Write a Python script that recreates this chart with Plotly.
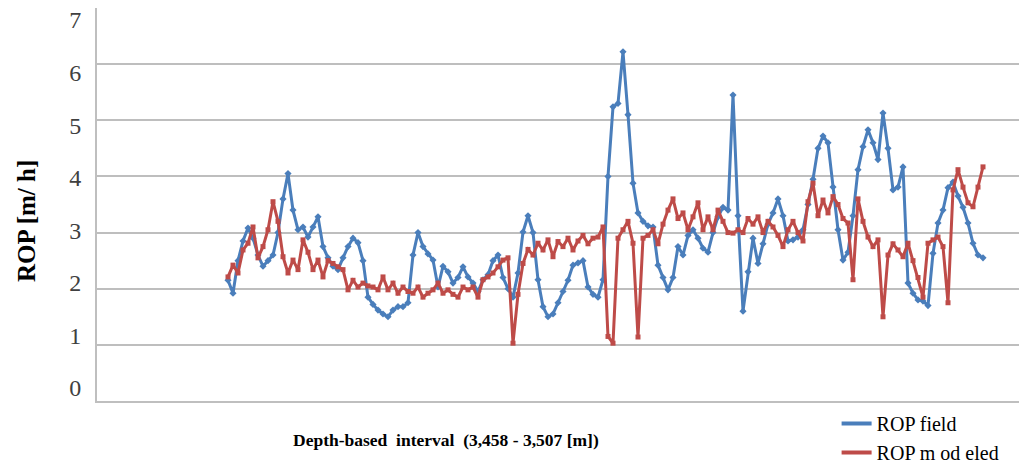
import plotly.graph_objects as go

# Sample index along the drilled interval (3,458 - 3,507 m)
sample = list(range(152))

rop_field = [
    2.15, 1.92, 2.50, 2.85, 3.08, 2.90, 2.60, 2.40, 2.50, 2.60,
    3.00, 3.60, 4.05, 3.40, 3.05, 3.10, 2.92, 3.10, 3.28, 2.75,
    2.55, 2.40, 2.34, 2.55, 2.75, 2.90, 2.82, 2.50, 1.85, 1.72,
    1.62, 1.55, 1.50, 1.62, 1.68, 1.68, 1.75, 2.60, 3.00, 2.75,
    2.62, 2.51, 2.03, 2.40, 2.30, 2.10, 2.20, 2.39, 2.21, 2.10,
    1.95, 2.16, 2.25, 2.50, 2.60, 2.20, 2.00, 1.85, 2.28, 3.01,
    3.30, 3.00, 2.16, 1.68, 1.50, 1.55, 1.75, 1.95, 2.15, 2.42,
    2.46, 2.50, 2.03, 1.90, 1.85, 2.16, 4.00, 5.24, 5.30, 6.22,
    5.10, 3.88, 3.35, 3.20, 3.12, 3.10, 2.42, 2.20, 1.98, 2.20,
    2.75, 2.60, 2.95, 3.05, 2.90, 2.72, 2.65, 3.00, 3.28, 3.45,
    3.40, 5.45, 3.30, 1.60, 2.30, 2.90, 2.45, 2.80, 3.15, 3.35,
    3.60, 3.30, 2.85, 2.87, 2.92, 3.05, 3.50, 3.95, 4.50, 4.72,
    4.60, 3.81, 3.05, 2.51, 2.65, 3.30, 4.12, 4.53, 4.83, 4.60,
    4.30, 5.13, 4.50, 3.76, 3.81, 4.17, 2.10, 1.92, 1.80, 1.78,
    1.70, 2.63, 3.17, 3.40, 3.80, 3.90, 3.65, 3.45, 3.17, 2.81,
    2.60, 2.55,
]

rop_modeled = [
    2.21, 2.42, 2.28, 2.69, 2.81, 3.10, 2.55, 2.75, 3.05, 3.55,
    3.20, 2.57, 2.28, 2.51, 2.34, 2.87, 2.65, 2.34, 2.51, 2.21,
    2.50, 2.45, 2.39, 2.34, 1.98, 2.15, 2.03, 2.10, 2.05, 2.03,
    1.98, 2.21, 1.98, 2.10, 1.92, 2.03, 1.95, 1.92, 2.03, 1.85,
    1.92, 1.98, 2.10, 1.92, 1.98, 1.90, 1.85, 2.03, 1.98, 2.03,
    1.85, 2.16, 2.21, 2.28, 2.39, 2.51, 2.55, 1.03, 1.90, 2.45,
    2.70, 2.60, 2.81, 2.69, 2.87, 2.57, 2.84, 2.75, 2.90, 2.69,
    2.85, 2.95, 2.80, 2.90, 2.92, 3.10, 1.15, 1.03, 2.90, 3.05,
    3.20, 2.81, 1.14, 2.90, 2.95, 3.05, 2.80, 3.15, 3.40, 3.60,
    3.25, 3.35, 3.05, 3.28, 3.53, 3.05, 3.28, 3.05, 3.40, 3.20,
    3.00, 2.99, 3.05, 3.00, 3.25, 3.15, 3.28, 3.00, 3.20, 3.10,
    2.95, 2.75, 3.05, 3.20, 3.00, 2.85, 3.55, 3.88, 3.30, 3.58,
    3.35, 3.64, 3.50, 3.25, 3.17, 2.16, 3.60, 3.20, 2.92, 2.75,
    2.87, 1.50, 2.60, 2.80, 2.69, 2.57, 2.81, 2.50, 2.20, 1.85,
    2.81, 2.87, 2.92, 2.75, 1.75, 3.76, 4.12, 3.81, 3.53, 3.46,
    3.81, 4.17,
]

y_ticks = [0, 1, 2, 3, 4, 5, 6, 7]

BLUE = "#4A7EBB"
RED = "#BE4B48"
GRID = "#BEBEBE"
SERIF = "Liberation Serif, Times New Roman, serif"

fig = go.Figure()

fig.add_trace(go.Scatter(
    x=sample, y=rop_field, mode="lines+markers", showlegend=False,
    line=dict(color=BLUE, width=3),
    marker=dict(symbol="diamond", size=5.5, color=BLUE),
))
fig.add_trace(go.Scatter(
    x=sample, y=rop_modeled, mode="lines+markers", showlegend=False,
    line=dict(color=RED, width=3),
    marker=dict(symbol="square", size=5, color=RED),
))

# legend entries drawn as plain lines; they also carry the label axis
fig.add_trace(go.Scatter(x=[None], y=[None], mode="lines", name="ROP field",
                         yaxis="y2", line=dict(color=BLUE, width=4)))
fig.add_trace(go.Scatter(x=[None], y=[None], mode="lines", name="ROP m od eled",
                         yaxis="y2", line=dict(color=RED, width=4)))

fig.update_layout(
    template="none",
    width=1019, height=466,
    margin=dict(l=97, r=0, t=8, b=65, autoexpand=False),
    paper_bgcolor="white", plot_bgcolor="white",
    font=dict(family=SERIF, size=17, color="#404040"),
    legend=dict(
        xref="container", yref="container",
        x=0.821, y=0.133, xanchor="left", yanchor="top",
        font=dict(family=SERIF, size=20, color="black"),
        itemwidth=30, tracegroupgap=0, bgcolor="rgba(0,0,0,0)",
    ),
    annotations=[
        dict(text="<b>Depth-based  interval  (3,458 - 3,507 [m])</b>",
             xref="paper", yref="paper", x=0.378, y=-0.1, xanchor="center",
             yanchor="middle", showarrow=False,
             font=dict(family=SERIF, size=17.5, color="black")),
        dict(text="<b>ROP [m/ h]</b>", xref="paper", yref="paper",
             x=-0.077, y=0.458, xanchor="center", yanchor="middle",
             textangle=-90, showarrow=False,
             font=dict(family=SERIF, size=25, color="black")),
    ],
    xaxis=dict(
        range=[-26.2, 158.2], showticklabels=False, showgrid=False,
        zeroline=False, showline=True, linecolor="#BFBFBF", linewidth=1.5,
        ticks="",
    ),
    yaxis=dict(
        range=[0, 7], tickmode="array", tickvals=y_ticks, showgrid=True,
        gridcolor=GRID, gridwidth=1.5, zeroline=False, showline=True,
        linecolor="#BFBFBF", linewidth=1.5, showticklabels=False, ticks="",
    ),
    # tick labels sit on a slightly compressed scale next to the grid
    yaxis2=dict(
        overlaying="y", side="left", anchor="x",
        range=[-0.247, 7.228], tickmode="array", tickvals=y_ticks,
        showgrid=False, zeroline=False, showline=False,
        ticks="outside", ticklen=10, tickcolor="rgba(0,0,0,0)",
        ticklabeloverflow="allow",
        tickfont=dict(family=SERIF, size=24, color="#404040"),
    ),
)

fig.write_html("out.html")
